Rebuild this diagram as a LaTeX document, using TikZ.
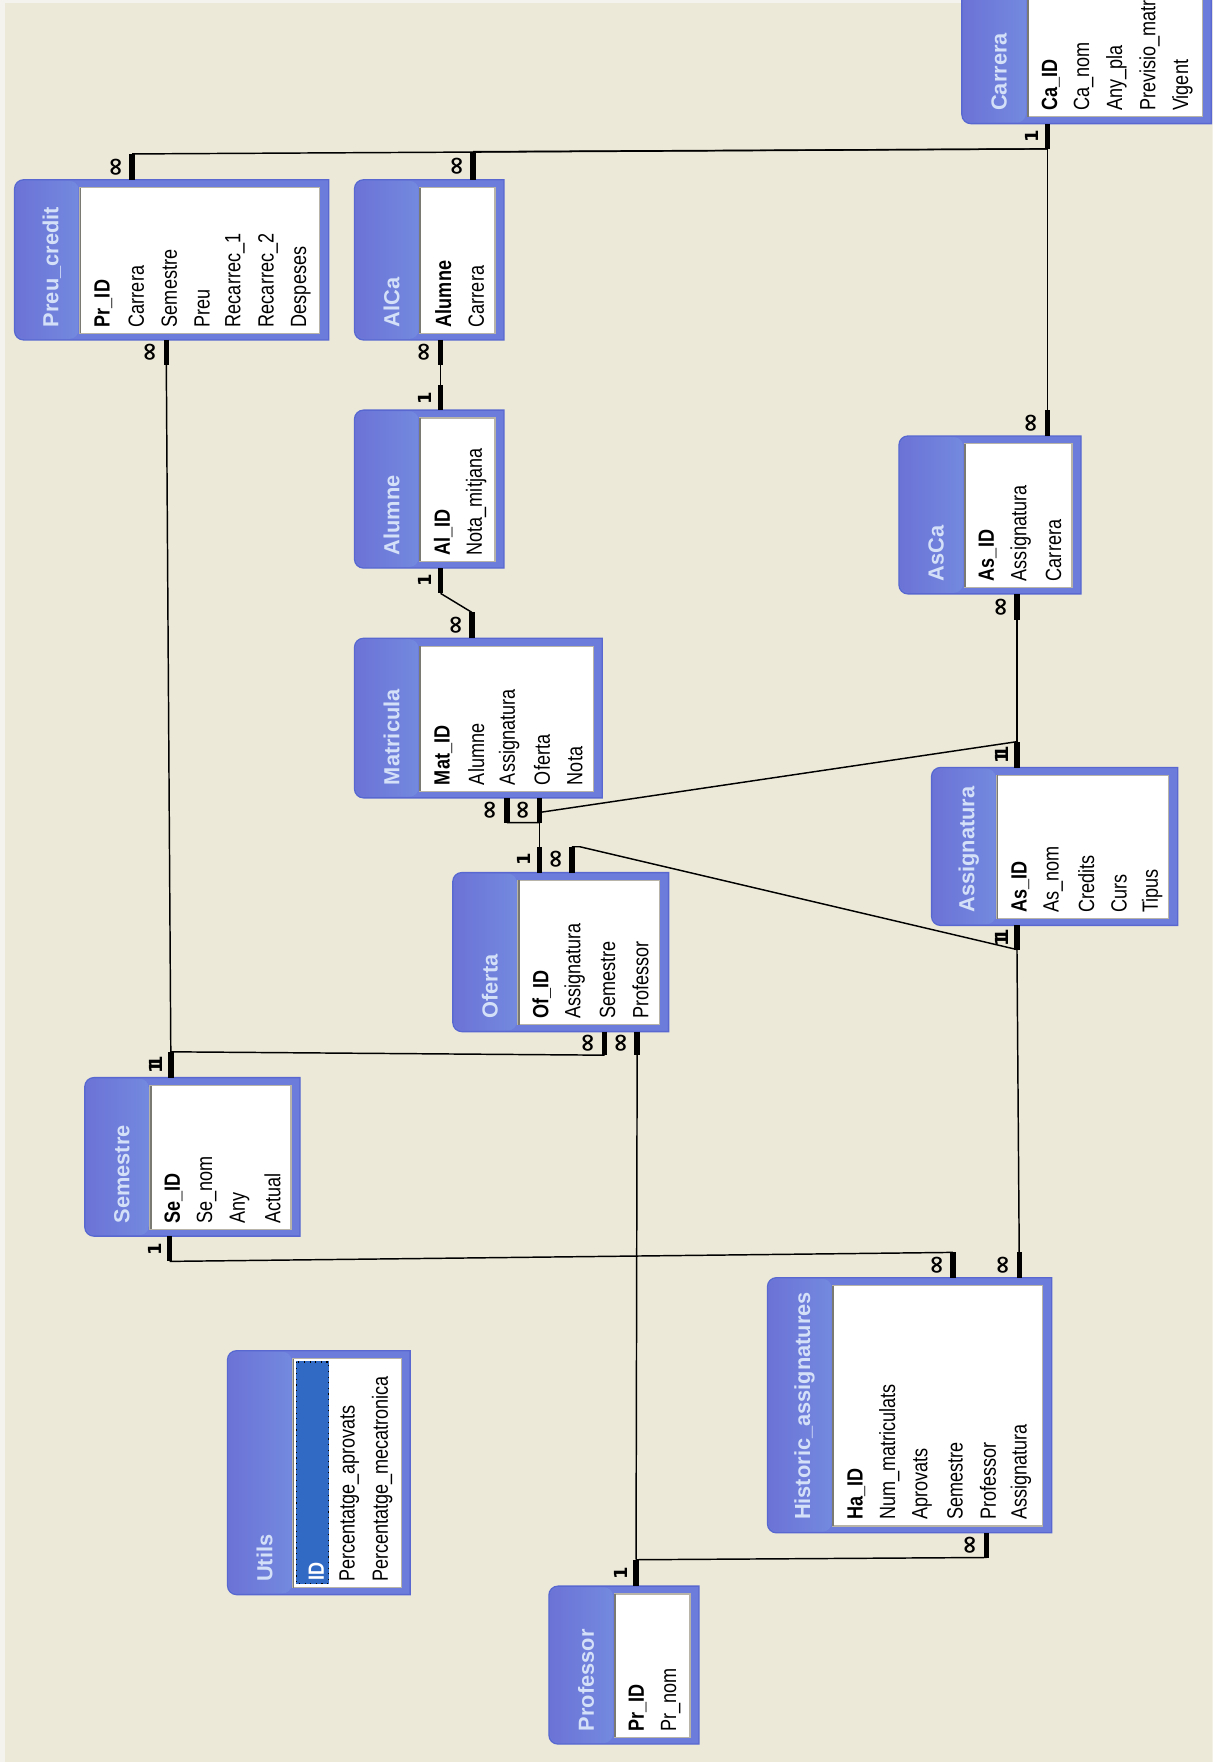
\documentclass[tikz,border=0pt]{standalone}
\usepackage{fontspec}
\setmainfont{Liberation Sans}
\newfontfamily\fieldfont[FakeStretch=0.82]{Liberation Sans}
\newfontfamily\titlefont{Liberation Sans}
\newfontfamily\symfont{DejaVu Sans}
\usetikzlibrary{calc}
\definecolor{bgcol}{HTML}{ECE9D8}
\definecolor{edgecol}{HTML}{F4F3EE}
\definecolor{frameblue}{HTML}{6B7CDB}
\definecolor{frameline}{HTML}{5868D0}
\definecolor{hdL}{HTML}{6C73D6}
\definecolor{hdM}{HTML}{86A8EA}
\definecolor{hdR}{HTML}{7389DF}
\definecolor{titlecol}{HTML}{D4E0F8}
\definecolor{innerline}{HTML}{B8B4A8}
\definecolor{innerdark}{HTML}{7A7A72}
\definecolor{selblue}{HTML}{316AC5}
\tikzset{
  fld/.style={rotate=90, anchor=west, inner sep=0pt, font=\fieldfont\fontsize{9.8}{10}\selectfont},
  key/.style={fld, font=\fieldfont\bfseries\fontsize{9.8}{10}\selectfont},
  ttl/.style={rotate=90, anchor=west, inner sep=0pt, text=titlecol, font=\titlefont\bfseries\fontsize{9.7}{10}\selectfont},
  bar/.style={line width=2.4pt, line cap=butt},
  lnk/.style={line width=0.65pt},
  card/.style={rotate=90, inner sep=0pt, font=\symfont\bfseries\fontsize{8}{8}\selectfont},
  cardinf/.style={rotate=90, inner sep=0pt, font=\symfont\bfseries\fontsize{11}{11}\selectfont},
}
% name, x0, y0, x1, y1, title
\newcommand\dbtable[6]{%
  \fill[frameblue] (#4,#5) -- (#4,#3) [rounded corners=4pt] -- (#2,#3) -- (#2,#5) [sharp corners] -- cycle;
  \shade[left color=hdL, middle color=hdM, right color=hdR, rounded corners=4pt] ({#2+1},{#3+1}) rectangle ({#2+57},{#5-1});
  \draw[frameline, line width=0.6pt] (#4,#5) -- (#4,#3) [rounded corners=4pt] -- (#2,#3) -- (#2,#5) [sharp corners] -- cycle;
  \fill[white] ({#2+58},{#3+7}) rectangle ({#4-8},{#5-6});
  \draw[innerline, line width=0.5pt] ({#2+58},{#3+7}) rectangle ({#4-8},{#5-6});
  \draw[innerdark, line width=0.8pt] ({#2+58.6},{#5-6}) -- ({#2+58.6},{#3+7});
  \node[ttl] (#1) at ({#2+33},{#5-11}) {#6};
}
% prefix, x0, y, key field, other fields
\newcommand\dbfields[5]{%
  \node[key] (#1-0) at ({#2+79},#3) {#4};
  \foreach \f [count=\i] in {#5} \node[fld] (#1-\i) at ({#2+79+29.3*\i},#3) {\f};
}
% name, edge point, outer point, label style, label
\newcommand\stub[5]{%
  \coordinate (#1E) at #2;
  \coordinate (#1O) at #3;
  \draw[bar] (#1E) -- (#1O);
  \node[#4] (#1L) at ($(#1E)!0.5!(#1O)+(-13.5,0)$) {#5};
}
\newcommand\dbl{1\kern-3.4pt1}
\begin{document}
\begin{tikzpicture}[x=0.5pt,y=-0.5pt]
\useasboundingbox (0,0) rectangle (1079,1568);
\clip (0,0) rectangle (1079,1568);
\fill[bgcol] (0,0) rectangle (1079,1568);
\fill[edgecol] (0,0) rectangle (4.5,1568);
\fill[edgecol] (0,0) rectangle (1079,2.5);

% ---------- tables ----------
\dbtable{carrera}{856}{-30}{1078}{110}{Carrera}
\dbfields{car}{856}{99}{Ca\_ID}{Ca\_nom,Any\_pla,Previsio\_matr,Vigent}

\dbtable{preu}{13}{160}{292.5}{302.5}{Preu\_credit}
\dbfields{pc}{13}{291.5}{Pr\_ID}{Carrera,Semestre,Preu,Recarrec\_1,Recarrec\_2,Despeses}

\dbtable{alca}{315.5}{160}{448.5}{302.5}{AlCa}
\dbfields{ac}{315.5}{291.5}{Alumne}{Carrera}

\dbtable{alumne}{315.5}{365}{448.5}{505.5}{Alumne}
\dbfields{al}{315.5}{494.5}{Al\_ID}{Nota\_mitjana}

\dbtable{matricula}{315.5}{568}{536}{710}{Matricula}
\dbfields{ma}{315.5}{699}{Mat\_ID}{Alumne,Assignatura,Oferta,Nota}

\dbtable{asca}{800}{388}{962}{528.5}{AsCa}
\dbfields{asc}{800}{517.5}{As\_ID}{Assignatura,Carrera}

\dbtable{assignatura}{829}{683}{1048}{823.5}{Assignatura}
\dbfields{as}{829}{812.5}{As\_ID}{As\_nom,Credits,Curs,Tipus}

\dbtable{oferta}{403}{776.5}{595}{918}{Oferta}
\dbfields{of}{403}{907}{Of\_ID}{Assignatura,Semestre,Professor}

\dbtable{semestre}{75.5}{959}{267}{1100}{Semestre}
\dbfields{se}{75.5}{1089}{Se\_ID}{Se\_nom,Any,Actual}

\dbtable{historic}{683}{1137}{936}{1364}{Historic\_assignatures}
\dbfields{ha}{683}{1353}{Ha\_ID}{Num\_matriculats,Aprovats,Semestre,Professor,Assignatura}

\dbtable{professor}{488.5}{1411.5}{622}{1552}{Professor}
\dbfields{pr}{488.5}{1541}{Pr\_ID}{Pr\_nom}

\dbtable{utils}{202.5}{1202}{365}{1419}{Utils}
\fill[selblue] (263,1211.5) rectangle (293,1410);
\draw[black, dotted, line width=0.5pt] (263.5,1212) rectangle (292.5,1409.5);
\node[key, text=white] (ut-0) at (281.5,1406.5) {ID};
\node[fld] (ut-1) at (310.8,1408) {Percentatge\_aprovats};
\node[fld] (ut-2) at (340.1,1408) {Percentatge\_mecatronica};

% ---------- stubs ----------
\stub{car}{(932,110)}{(932,132.5)}{card}{1}
\stub{pcT}{(117.5,160)}{(117.5,137)}{cardinf}{∞}
\stub{acT}{(421,160)}{(421,135)}{cardinf}{∞}
\stub{ascT}{(932,388)}{(932,365)}{cardinf}{∞}
\stub{acB}{(392,302.5)}{(392,325)}{cardinf}{∞}
\stub{alT}{(392,365)}{(392,343)}{card}{1}
\stub{alB}{(392,505.5)}{(392,528)}{card}{1}
\stub{maT}{(420,568)}{(420,545)}{cardinf}{∞}
\stub{maBa}{(451,710)}{(451,732)}{cardinf}{∞}
\stub{maBb}{(480,710)}{(480,732)}{cardinf}{∞}
\stub{ofTa}{(480,776.5)}{(480,753.5)}{card}{1}
\stub{ofTb}{(509,776.5)}{(509,753.5)}{cardinf}{∞}
\stub{ascB}{(905,528.5)}{(905,552)}{cardinf}{∞}
\stub{asT}{(905,683)}{(905,660)}{card}{\dbl}
\stub{asB}{(905,823.5)}{(905,845)}{card}{\dbl}
\stub{ofBa}{(538,918)}{(538,939)}{cardinf}{∞}
\stub{ofBb}{(567,918)}{(567,938.5)}{cardinf}{∞}
\stub{seT}{(152,959)}{(152,936)}{card}{\dbl}
\stub{pcB}{(148,302.5)}{(148,325)}{cardinf}{∞}
\stub{prT}{(566,1411.5)}{(566,1388)}{card}{1}
\stub{seB}{(151,1100)}{(151,1122.5)}{card}{1}
\stub{haTa}{(848,1137)}{(848,1114.5)}{cardinf}{∞}
\stub{haTb}{(907,1137)}{(907,1114.5)}{cardinf}{∞}
\stub{haB}{(878,1364)}{(878,1386)}{cardinf}{∞}

\coordinate (maJ) at (480,723);
\coordinate (ofJ) at (516,753.5);

% ---------- links ----------
\draw[lnk] (carO) -- (pcTO);
\draw[lnk] (carO) -- (acTO);
\draw[lnk] (carO) -- (ascTO);
\draw[lnk] (acBO) -- (alTO);
\draw[lnk] (alBO) -- (maTO);
\draw[lnk] (maBbO) -- (ofTaO);
\draw[lnk] (maBaO) -- (maBbO) -- (maJ) -- (asTO);
\draw[lnk] (ofTbO) -- (ofJ) -- (asBO);
\draw[lnk] (ascBO) -- (asTO);
\draw[lnk] (asBO) -- (haTbO);
\draw[lnk] (ofBaO) -- (seTO);
\draw[lnk] (pcBO) -- (seTO);
\draw[lnk] (ofBbO) -- (prTO);
\draw[lnk] (seBO) -- (haTaO);
\draw[lnk] (haBO) -- (prTO);
\end{tikzpicture}
\end{document}
